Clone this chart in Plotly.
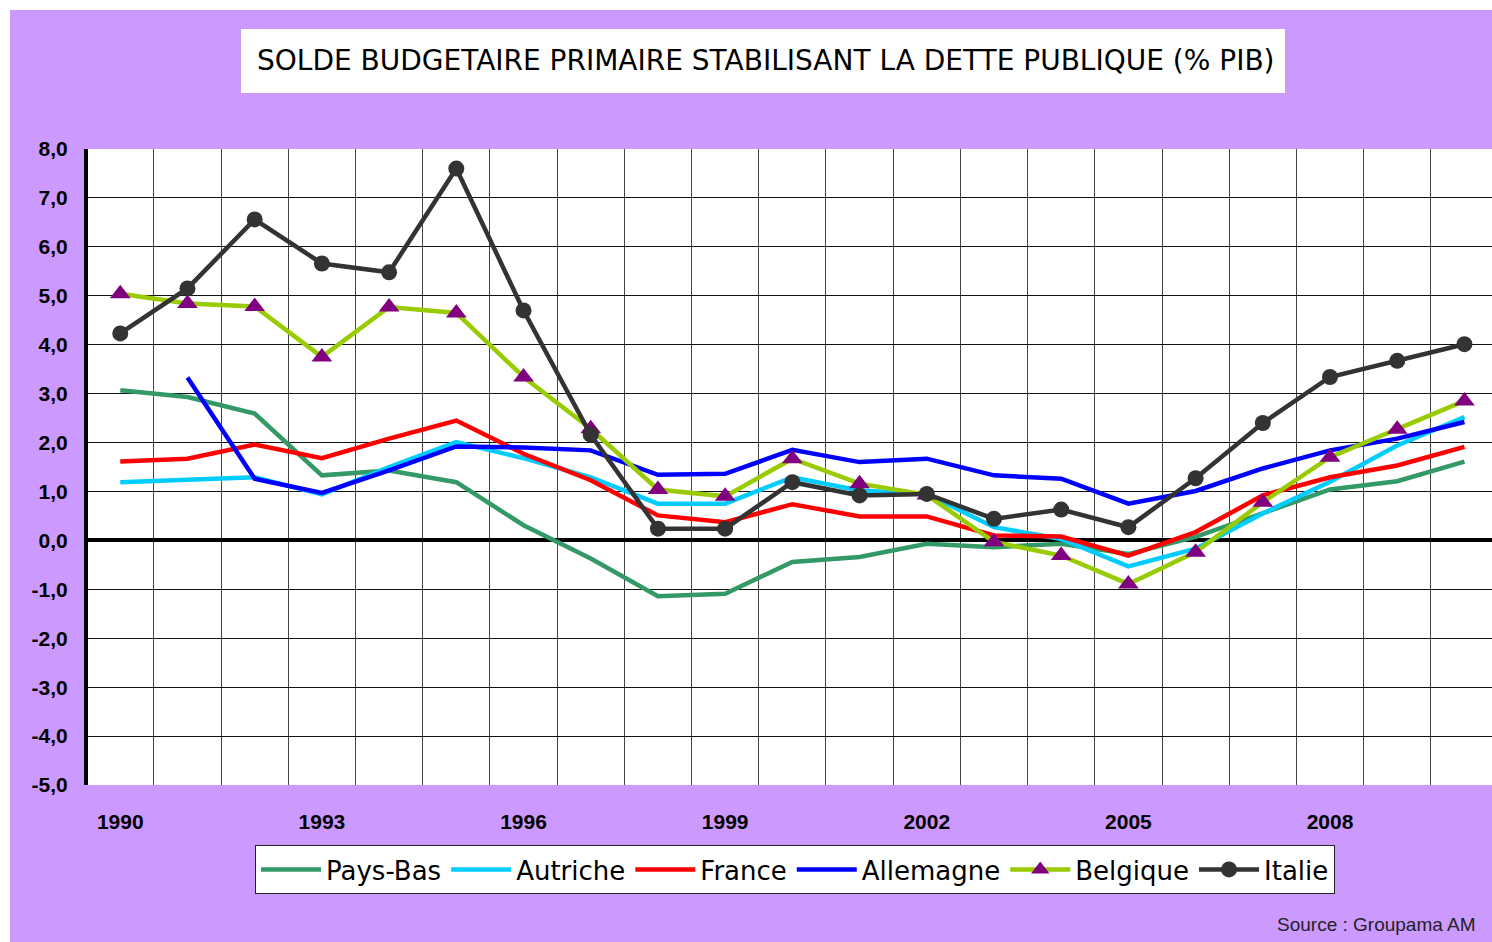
import plotly.graph_objects as go

years = list(range(1990, 2011))
pays_bas = [3.07, 2.93, 2.59, 1.33, 1.43, 1.19, 0.31, -0.37, -1.14, -1.09, -0.44, -0.34, -0.07, -0.14, -0.07, -0.28, 0.07, 0.55, 1.04, 1.21, 1.61]
autriche = [1.19, 1.23, 1.29, 0.94, 1.50, 2.01, 1.68, 1.29, 0.75, 0.75, 1.29, 1.02, 0.95, 0.27, 0.03, -0.53, -0.17, 0.55, 1.20, 1.94, 2.52]
france = [1.61, 1.67, 1.96, 1.68, 2.08, 2.45, 1.77, 1.23, 0.51, 0.37, 0.74, 0.49, 0.49, 0.10, 0.08, -0.31, 0.17, 0.92, 1.29, 1.53, 1.91]
allemagne = [None, 3.33, 1.26, 0.97, 1.43, 1.92, 1.90, 1.84, 1.34, 1.36, 1.85, 1.60, 1.67, 1.33, 1.26, 0.75, 1.01, 1.47, 1.84, 2.08, 2.42]
belgique = [5.04, 4.84, 4.78, 3.75, 4.77, 4.65, 3.34, 2.28, 1.04, 0.90, 1.67, 1.16, 0.93, -0.03, -0.31, -0.89, -0.24, 0.78, 1.70, 2.27, 2.85]
italie = [4.23, 5.15, 6.56, 5.66, 5.48, 7.60, 4.70, 2.16, 0.24, 0.24, 1.19, 0.92, 0.95, 0.44, 0.63, 0.27, 1.27, 2.40, 3.34, 3.67, 4.01]

tick_years = [1990, 1993, 1996, 1999, 2002, 2005, 2008]
y_ticks = list(range(-5, 9))
y_labels = [f"{v},0" for v in y_ticks]
title_text = "SOLDE BUDGETAIRE PRIMAIRE STABILISANT LA DETTE PUBLIQUE (% PIB)"
source_text = "Source : Groupama AM"

W, H = 1492, 942
# plot-area edges in page pixels
L, R, T, B = 88, 1492, 149, 785


def px(x):
    return (x - L) / (R - L)


def py(y):
    return (B - y) / (B - T)


fig = go.Figure()
series = [
    ("Pays-Bas", pays_bas, "#339966", None),
    ("Autriche", autriche, "#00CCFF", None),
    ("France", france, "#FF0000", None),
    ("Allemagne", allemagne, "#0000FF", None),
    ("Belgique", belgique, "#99CC00", dict(symbol="triangle-up", size=18, color="#800080")),
    ("Italie", italie, "#333333", dict(symbol="circle", size=16, color="#333333")),
]
for name, vals, col, mk in series:
    fig.add_trace(go.Scatter(
        x=years, y=vals, name=name,
        mode="lines+markers" if mk else "lines",
        line=dict(color=col, width=4.5),
        marker=mk if mk else None,
        connectgaps=False,
    ))

fig.update_layout(
    width=W, height=H,
    margin=dict(l=L, r=W - R, t=T, b=H - B, pad=0),
    paper_bgcolor="#CC99FF",
    plot_bgcolor="white",
    showlegend=True,
    legend=dict(
        orientation="h", x=px(795), xanchor="center", y=py(845), yanchor="top",
        bgcolor="white", bordercolor="#222222", borderwidth=1,
        font=dict(family="DejaVu Sans", size=26, color="black"),
        itemwidth=60, tracegroupgap=0,
    ),
    xaxis=dict(
        range=[1989.52, 2010.41],
        tickmode="array", tickvals=tick_years,
        ticktext=[str(y) for y in tick_years],
        showgrid=False, zeroline=False,
        showline=False, ticks="",
        ticklabelstandoff=22,
        tickfont=dict(family="Liberation Sans", size=21, color="black", weight="bold"),
        minor=dict(tickvals=[y + 0.5 for y in range(1990, 2010)], showgrid=True,
                   gridcolor="#444444", gridwidth=1, ticks=""),
    ),
    yaxis=dict(
        range=[-5, 8], tickmode="array", tickvals=y_ticks, ticktext=y_labels,
        showgrid=True, gridcolor="#111111", gridwidth=1,
        zeroline=True, zerolinecolor="black", zerolinewidth=4,
        showline=True, linecolor="black", linewidth=4,
        ticks="", ticklabelstandoff=12,
        tickfont=dict(family="Liberation Sans", size=21, color="black", weight="bold"),
    ),
    shapes=[
        dict(type="rect", xref="paper", yref="paper", x0=px(0), x1=px(W + 10), y0=py(0), y1=py(10),
             fillcolor="white", line=dict(width=0), layer="below"),
        dict(type="rect", xref="paper", yref="paper", x0=px(0), x1=px(10), y0=py(0), y1=py(H + 10),
             fillcolor="white", line=dict(width=0), layer="below"),
        dict(type="rect", xref="paper", yref="paper", x0=px(241), x1=px(1285), y0=py(29), y1=py(93),
             fillcolor="white", line=dict(width=0), layer="below"),
    ],
    annotations=[
        dict(text=title_text, xref="paper", yref="paper", x=px(766), y=py(60),
             xanchor="center", yanchor="middle", showarrow=False,
             font=dict(family="DejaVu Sans", size=28, color="black")),
        dict(text=source_text, xref="paper", yref="paper", x=px(1478), y=py(924),
             xanchor="right", yanchor="middle", showarrow=False,
             font=dict(family="Liberation Sans", size=19, color="#222222")),
    ],
)

fig.write_html(
    "out.html",
    config={"displayModeBar": False},
    post_script="document.body.style.margin='0';document.body.style.overflow='hidden';",
)
